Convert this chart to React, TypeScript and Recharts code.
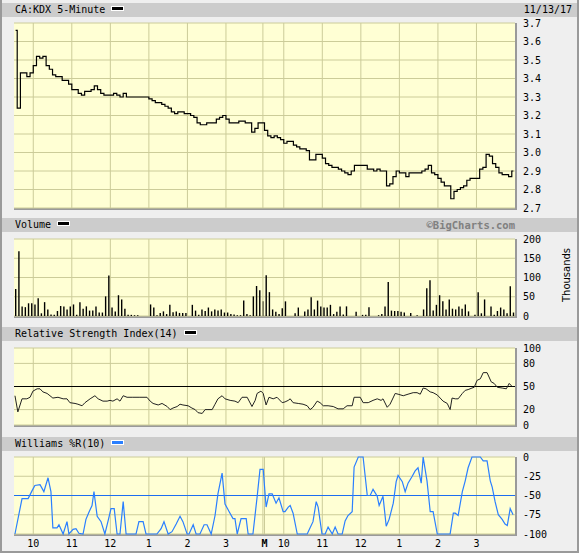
import React from "react";
import {
  LineChart,
  BarChart,
  Line,
  Bar,
  XAxis,
  YAxis,
  CartesianGrid,
  ReferenceLine,
} from "recharts";

// 5-minute bars, two sessions of 78 bars each
const priceValues = [
  3.66, 3.24, 3.43, 3.43, 3.41, 3.43, 3.47, 3.52, 3.51, 3.52,
  3.47, 3.45, 3.42, 3.41, 3.41, 3.39, 3.39, 3.37, 3.34, 3.34,
  3.32, 3.31, 3.33, 3.33, 3.34, 3.36, 3.34, 3.32, 3.31, 3.31,
  3.31, 3.32, 3.31, 3.3, 3.32, 3.3, 3.3, 3.3, 3.3, 3.3,
  3.3, 3.3, 3.29, 3.28, 3.27, 3.27, 3.26, 3.25, 3.24, 3.22,
  3.21, 3.22, 3.22, 3.21, 3.21, 3.2, 3.19, 3.16, 3.15, 3.15,
  3.16, 3.16, 3.16, 3.18, 3.19, 3.2, 3.18, 3.16, 3.16, 3.16,
  3.17, 3.17, 3.16, 3.16, 3.11, 3.13, 3.16, 3.16,
  3.12, 3.09, 3.08, 3.09, 3.08, 3.07, 3.05, 3.06, 3.06, 3.04,
  3.03, 3.02, 3.02, 3.01, 2.96, 2.96, 2.99, 2.99, 2.97, 2.94,
  2.93, 2.92, 2.92, 2.91, 2.9, 2.89, 2.88, 2.9, 2.93, 2.93,
  2.93, 2.93, 2.91, 2.91, 2.9, 2.91, 2.9, 2.9, 2.82, 2.83,
  2.87, 2.9, 2.89, 2.89, 2.87, 2.89, 2.89, 2.89, 2.89, 2.9,
  2.91, 2.93, 2.89, 2.88, 2.86, 2.84, 2.82, 2.82, 2.75, 2.79,
  2.8, 2.81, 2.82, 2.85, 2.86, 2.86, 2.86, 2.91, 2.92, 2.99,
  2.98, 2.94, 2.92, 2.89, 2.88, 2.88, 2.87, 2.9,
];

// thousands of shares
const volumeValues = [
  70, 168, 25, 23, 33, 33, 30, 46, 7, 36,
  17, 4, 3, 13, 26, 25, 17, 25, 30, 3,
  36, 19, 25, 14, 14, 25, 9, 9, 51, 105,
  22, 12, 54, 43, 19, 3, 3, 2, 2, 0,
  0, 0, 30, 22, 2, 8, 12, 5, 29, 10,
  12, 8, 8, 8, 0, 29, 14, 3, 17, 13,
  22, 12, 17, 14, 17, 9, 9, 5, 4, 2,
  2, 40, 5, 2, 51, 78, 67, 38,
  106, 62, 17, 11, 5, 20, 38, 0, 0, 7,
  22, 0, 12, 17, 49, 17, 40, 25, 22, 22,
  29, 5, 11, 25, 4, 25, 0, 0, 11, 0,
  3, 3, 23, 0, 0, 2, 5, 25, 88, 14,
  13, 13, 11, 9, 0, 8, 0, 2, 0, 17,
  72, 93, 14, 29, 54, 38, 17, 43, 19, 17,
  25, 19, 30, 12, 0, 3, 62, 7, 43, 0,
  25, 3, 13, 22, 17, 7, 77, 9,
];

const rsiBars = [
  0.3, 1.2, 2.5, 4.0, 5.0, 5.9, 7.2, 8.1, 9.0, 10.3,
  11.2, 12.1, 13.7, 15.3, 16.5, 17.4, 19.0, 19.9, 21.2, 22.1,
  23.7, 25.2, 26.2, 27.7, 29.0, 29.9, 30.8, 32.1, 33.0, 34.0,
  35.2, 36.8, 38.3, 39.2, 41.4, 42.4, 43.3, 44.9, 46.1, 47.7,
  48.6, 49.5, 50.8, 51.7, 52.6, 54.2, 55.4, 56.4, 57.3, 58.6,
  59.5, 60.4, 61.7, 62.6, 63.5, 64.8, 65.7, 67.3, 68.8, 69.8,
  71.0, 72.6, 74.1, 75.1, 75.7, 76.9, 77.6, 78.5, 79.4, 80.7,
  81.9, 83.5, 84.4, 85.4, 86.0, 86.9, 88.5, 90.0, 91.3, 92.2,
  93.1, 94.4, 95.3, 96.3, 97.8, 99.4, 100.9, 102.5, 103.7, 105.3,
  105.9, 107.8, 108.7, 110.3, 111.8, 113.1, 114.3, 114.9, 116.2, 117.1,
  118.7, 119.6, 121.2, 122.7, 124.3, 125.5, 126.5, 127.4, 128.3, 129.6,
  130.5, 131.8, 132.7, 133.6, 134.9, 135.8, 136.4, 137.4, 138.3, 139.6,
  140.5, 141.4, 142.6, 143.3, 144.2, 145.2, 146.1, 147.3, 148.6, 149.5,
  150.5, 152.0, 153.3, 154.2, 155.1,
];
const rsiValues = [
  38, 17, 34, 34, 36, 44, 47, 47, 43, 41,
  38, 35, 36, 34, 34, 29, 28, 27, 25, 29,
  34, 38, 34, 31, 31, 32, 31, 34, 31, 38,
  36, 36, 36, 36, 36, 31, 28, 26, 28, 24,
  20, 22, 24, 27, 26, 25, 22, 20, 16, 15,
  20, 20, 20, 27, 34, 38, 34, 32, 31, 29,
  36, 36, 24, 32, 41, 44, 41, 26, 36, 34,
  36, 29, 30, 32, 34, 29, 28, 27, 25, 20,
  23, 31, 29, 25, 25, 24, 21, 21, 25, 25,
  36, 36, 29, 29, 32, 34, 32, 34, 23, 27,
  41, 40, 38, 40, 42, 42, 40, 48, 47, 43,
  42, 39, 35, 31, 28, 20, 35, 34, 34, 41,
  45, 46, 48, 49, 58, 60, 68, 68, 56, 54,
  49, 48, 47, 54, 50,
];

const wprBars = [
  0.3, 2.5, 4.4, 5.6, 6.5, 8.1, 9.3, 10.6, 11.5, 12.1,
  13.4, 14.0, 15.3, 16.5, 17.1, 18.4, 19.3, 20.2, 21.5, 22.4,
  23.4, 24.3, 24.9, 25.9, 27.1, 28.3, 29.3, 30.2, 31.2, 32.1,
  33.0, 34.0, 34.9, 36.8, 38.0, 38.9, 40.2, 41.1, 42.4, 44.5,
  45.8, 46.7, 48.0, 49.2, 50.5, 51.7, 52.6, 53.9, 54.5, 55.8,
  56.7, 57.9, 59.2, 60.1, 61.4, 62.6, 63.5, 64.8, 65.7, 67.0,
  68.2, 68.8, 69.5, 70.7, 72.3, 72.9, 74.4, 75.7, 76.6, 77.6,
  78.5, 79.4, 80.4, 81.6, 82.5, 83.8, 84.4, 85.4, 86.0, 86.9,
  88.2, 89.7, 91.3, 92.2, 93.1, 94.1, 94.7, 95.9, 96.9, 97.8,
  99.1, 100.0, 100.9, 102.2, 103.1, 104.0, 105.3, 105.9, 107.2, 108.7,
  110.0, 110.9, 111.8, 113.1, 113.7, 114.9, 115.9, 116.8, 118.1, 119.0,
  119.6, 120.9, 121.8, 122.7, 124.0, 124.9, 125.8, 126.8, 127.4, 128.6,
  129.6, 130.5, 131.8, 133.3, 134.6, 135.8, 136.8, 137.4, 138.3, 139.6,
  140.5, 141.4, 142.6, 143.6, 145.2, 146.1, 147.3, 148.3, 148.9, 149.8,
  150.8, 152.0, 152.9, 153.6, 154.5, 155.4,
];
const wprValues = [
  -100, -54, -54, -44, -37, -36, -45, -27, -45, -92,
  -92, -88, -100, -84, -100, -94, -93, -99, -100, -81,
  -71, -63, -45, -77, -84, -100, -83, -67, -67, -100,
  -100, -58, -100, -100, -100, -84, -84, -100, -100, -100,
  -93, -84, -100, -97, -87, -77, -84, -100, -100, -88,
  -100, -100, -88, -88, -100, -76, -48, -21, -61, -71,
  -80, -80, -100, -80, -80, -100, -100, -52, -16, -16,
  -65, -48, -48, -60, -53, -71, -71, -65, -63, -73,
  -100, -100, -100, -92, -84, -58, -65, -100, -100, -91,
  -100, -91, -100, -100, -83, -76, -71, -13, 0, 0,
  -50, -50, -42, -51, -63, -51, -90, -81, -60, -32,
  -24, -32, -45, -34, -25, -18, -14, -34, 0, -31,
  -71, -71, -100, -100, -100, -100, -73, -73, -76, -45,
  -31, -14, 0, 0, 0, -5, -5, -31, -39, -58,
  -75, -81, -87, -89, -67, -75,
];

const hourTicks = [6, 18, 30, 42, 54, 66, 78, 84, 96, 108, 120, 132, 144];
const hourLabels = ["10", "11", "12", "1", "2", "3", "M", "10", "11", "12", "1", "2", "3"];
const dayBreak = 77.5;

const priceTicks = [2.7, 2.8, 2.9, 3.0, 3.1, 3.2, 3.3, 3.4, 3.5, 3.6, 3.7];
const volumeTicks = [0, 50, 100, 150, 200];
const rsiTicks = [0, 20, 50, 80, 100];
const wprTicks = [-100, -75, -50, -25, 0];

const W = 579;
const LEFT = 14;
const AXIS_W = 64;
const PLOT_W = W - AXIS_W - LEFT;
const FONT = "'DejaVu Sans Mono', monospace";
const GRID = "#cccc99";
const PLOT_BG = "#ffffd4";
const HEADER_BG = "#cccccc";
const PAGE_BG = "#efefef";
const EDGE = "#9a9a9a";
const BLUE = "#2a7fff";

const tickStyle = { fontSize: 10, fontFamily: FONT, fill: "#000" };

const priceData = priceValues.map((v, i) => ({ bar: i + 0.5, price: v }));
const volumeData = volumeValues.map((v, i) => ({ bar: i + 0.5, vol: v }));
const rsiData = rsiBars.map((b, i) => ({ bar: b, rsi: rsiValues[i] }));
const wprData = wprBars.map((b, i) => ({ bar: b, wpr: wprValues[i] }));

function PlotBox({ top, height }: { top: number; height: number }) {
  return (
    <div
      style={{
        position: "absolute",
        left: LEFT,
        top,
        width: PLOT_W,
        height,
        background: PLOT_BG,
        borderRight: `2px solid ${EDGE}`,
        borderBottom: `2px solid ${EDGE}`,
      }}
    />
  );
}

function Header({
  top,
  title,
  color,
  right,
}: {
  top: number;
  title: string;
  color: string;
  right?: React.ReactNode;
}) {
  return (
    <div
      style={{
        position: "absolute",
        left: 2,
        top,
        width: W - 4,
        height: 14,
        background: HEADER_BG,
        fontFamily: FONT,
        fontSize: 10,
        lineHeight: "14px",
        color: "#000",
        whiteSpace: "pre",
      }}
    >
      <span style={{ position: "absolute", left: 13, top: 0 }}>
        {title}
        <span
          style={{
            display: "inline-block",
            marginLeft: 6,
            width: 11,
            height: 3,
            background: color,
            border: "1px solid #fff",
            verticalAlign: 2,
          }}
        />
      </span>
      {right}
    </div>
  );
}

function HourTick(props: any) {
  const { x, y, payload } = props;
  const label = hourLabels[hourTicks.indexOf(payload.value)] ?? "";
  return (
    <text
      x={x}
      y={y}
      dy="0.71em"
      textAnchor="middle"
      fontFamily={FONT}
      fontSize={10}
      fontWeight={label === "M" ? "bold" : "normal"}
      fill="#000"
    >
      {label}
    </text>
  );
}

function xAxisHidden() {
  return (
    <XAxis
      dataKey="bar"
      type="number"
      domain={[0, 156]}
      ticks={hourTicks}
      hide
    />
  );
}

export default function App() {
  return (
    <div
      style={{
        position: "absolute",
        left: 0,
        top: 0,
        width: W,
        height: 553,
        background: PAGE_BG,
        boxShadow: `inset 2px 0 0 ${EDGE}, inset -2px 0 0 ${EDGE}, inset 0 -2px 0 ${EDGE}`,
        overflow: "hidden",
      }}
    >
      <Header
        top={3}
        title="CA:KDX 5-Minute"
        color="#000"
        right={
          <span style={{ position: "absolute", right: 5, top: 0 }}>11/13/17</span>
        }
      />
      <Header
        top={218}
        title="Volume"
        color="#000"
        right={
          <span
            style={{
              position: "absolute",
              right: 62,
              top: 0,
              color: "#808080",
              fontWeight: "bold",
              fontSize: 10.5,
            }}
          >
            ©BigCharts.com
          </span>
        }
      />
      <Header top={327} title="Relative Strength Index(14)" color="#000" />
      <Header top={437} title="Williams %R(10)" color={BLUE} />

      <PlotBox top={23} height={185} />
      <PlotBox top={239} height={77} />
      <PlotBox top={348} height={77} />
      <PlotBox top={457} height={77} />

      <div
        style={{
          position: "absolute",
          left: 567,
          top: 275,
          transform: "translate(-50%, -50%) rotate(-90deg)",
          fontFamily: "'DejaVu Sans', sans-serif",
          fontSize: 10,
          lineHeight: "10px",
          whiteSpace: "nowrap",
          color: "#000",
        }}
      >
        Thousands
      </div>

      {/* price */}
      <div style={{ position: "absolute", left: 0, top: 0 }}>
        <LineChart
          width={W}
          height={218}
          data={priceData}
          margin={{ top: 23, right: 0, bottom: 10, left: LEFT }}
        >
          <CartesianGrid stroke={GRID} verticalValues={hourTicks} />
          {xAxisHidden()}
          <YAxis
            orientation="right"
            width={AXIS_W}
            domain={[2.7, 3.7]}
            ticks={priceTicks}
            interval={0}
            allowDataOverflow
            tickFormatter={(v: number) => v.toFixed(1)}
            tick={tickStyle}
            axisLine={false}
            tickLine={false}
          />
          <ReferenceLine x={dayBreak} stroke={GRID} />
          <Line
            type="step"
            dataKey="price"
            stroke="#000"
            strokeWidth={1.2}
            dot={false}
            isAnimationActive={false}
          />
        </LineChart>
      </div>

      {/* volume */}
      <div style={{ position: "absolute", left: 0, top: 220 }}>
        <BarChart
          width={W}
          height={106}
          data={volumeData}
          margin={{ top: 19, right: 0, bottom: 10, left: LEFT }}
        >
          <CartesianGrid stroke={GRID} verticalValues={hourTicks} />
          {xAxisHidden()}
          <YAxis
            orientation="right"
            width={AXIS_W}
            domain={[0, 200]}
            ticks={volumeTicks}
            interval={0}
            tick={tickStyle}
            axisLine={false}
            tickLine={false}
          />
          <ReferenceLine x={dayBreak} stroke={GRID} />
          <Bar dataKey="vol" fill="#000" barSize={1.4} isAnimationActive={false} />
        </BarChart>
      </div>

      {/* RSI */}
      <div style={{ position: "absolute", left: 0, top: 330 }}>
        <LineChart
          width={W}
          height={105}
          data={rsiData}
          margin={{ top: 18, right: 0, bottom: 10, left: LEFT }}
        >
          <CartesianGrid stroke={GRID} verticalValues={hourTicks} />
          {xAxisHidden()}
          <YAxis
            orientation="right"
            width={AXIS_W}
            domain={[0, 100]}
            ticks={rsiTicks}
            interval={0}
            tick={tickStyle}
            axisLine={false}
            tickLine={false}
          />
          <ReferenceLine x={dayBreak} stroke={GRID} />
          <ReferenceLine y={50} stroke="#000" strokeWidth={1.2} />
          <Line
            type="linear"
            dataKey="rsi"
            stroke="#222"
            strokeWidth={1}
            dot={false}
            isAnimationActive={false}
          />
        </LineChart>
      </div>

      {/* Williams %R */}
      <div style={{ position: "absolute", left: 0, top: 440 }}>
        <LineChart
          width={W}
          height={113}
          data={wprData}
          margin={{ top: 17, right: 0, bottom: 3, left: LEFT }}
        >
          <CartesianGrid stroke={GRID} verticalValues={hourTicks} />
          <XAxis
            dataKey="bar"
            type="number"
            domain={[0, 156]}
            ticks={hourTicks}
            interval={0}
            height={16}
            tick={<HourTick />}
            tickSize={0}
            tickMargin={6}
            axisLine={false}
            tickLine={false}
          />
          <YAxis
            orientation="right"
            width={AXIS_W}
            domain={[-100, 0]}
            ticks={wprTicks}
            interval={0}
            tick={tickStyle}
            axisLine={false}
            tickLine={false}
          />
          <ReferenceLine x={dayBreak} stroke={GRID} />
          <ReferenceLine y={-50} stroke="#1d6ef0" strokeWidth={1.2} />
          <Line
            type="linear"
            dataKey="wpr"
            stroke={BLUE}
            strokeWidth={1.2}
            dot={false}
            isAnimationActive={false}
          />
        </LineChart>
      </div>
    </div>
  );
}
